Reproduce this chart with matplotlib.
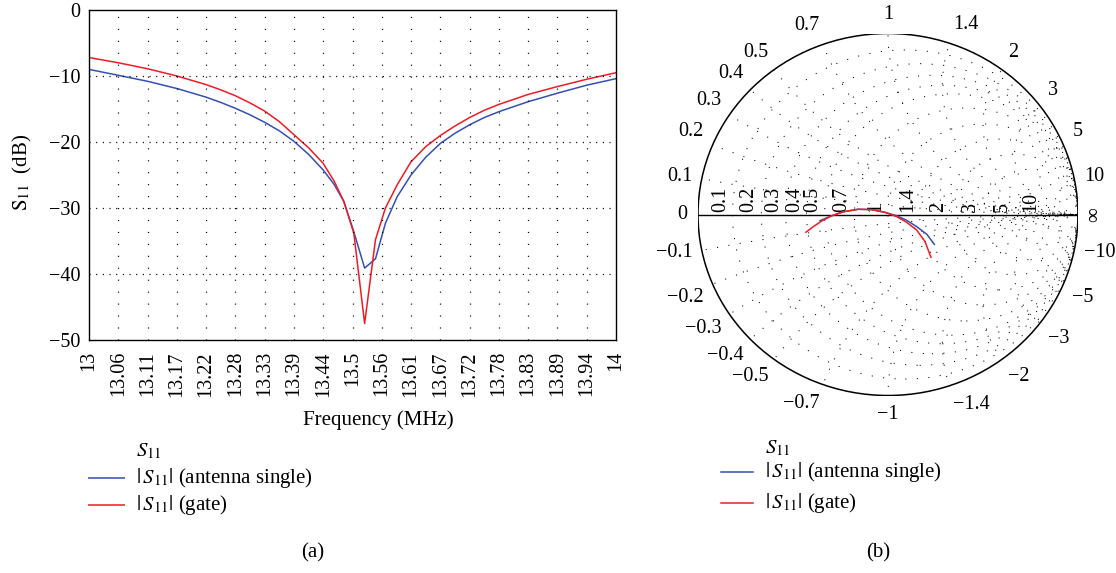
import numpy as np
import matplotlib
matplotlib.use("Agg")
import matplotlib.pyplot as plt
from matplotlib.lines import Line2D
from matplotlib.patches import Circle

plt.rcParams['font.family'] = ['Liberation Serif', 'DejaVu Serif']
plt.rcParams['mathtext.fontset'] = 'stix'
plt.rcParams['lines.scale_dashes'] = False

# --- data ---
# (a) |S11| in dB versus frequency
freq_mhz = [13.0, 13.056, 13.111, 13.167, 13.222, 13.25, 13.278, 13.306, 13.333, 13.361,
            13.389, 13.417, 13.444, 13.465, 13.4835, 13.5025, 13.523, 13.5436, 13.5625,
            13.5847, 13.611, 13.639, 13.667, 13.694, 13.722, 13.75, 13.778, 13.833,
            13.889, 13.944, 14.0]
s11_single = [-9.0, -9.9, -10.8, -11.9, -13.2, -14.0, -14.9, -15.9, -17.0, -18.3,
              -19.9, -21.9, -24.2, -26.4, -29.0, -33.6, -39.1, -37.7, -32.3,
              -28.3, -25.0, -22.3, -20.2, -18.7, -17.4, -16.3, -15.4, -13.9,
              -12.6, -11.4, -10.4]
s11_gate = [-7.2, -8.0, -8.9, -10.0, -11.3, -12.1, -13.0, -14.1, -15.3, -16.9,
            -18.9, -20.9, -23.2, -25.9, -29.0, -33.8, -47.5, -34.8, -30.0,
            -26.5, -23.0, -20.7, -19.0, -17.6, -16.3, -15.2, -14.3, -12.8,
            -11.6, -10.5, -9.5]
freq_ticklabels = ['13', '13.06', '13.11', '13.17', '13.22', '13.28', '13.33', '13.39',
                   '13.44', '13.5', '13.56', '13.61', '13.67', '13.72', '13.78', '13.83',
                   '13.89', '13.94', '14']
db_ticks = [0, -10, -20, -30, -40, -50]

# (b) reflection coefficient on the Smith chart (real, imag)
gam_single_re = [-0.358, -0.296, -0.235, -0.156, -0.086, -0.016, 0.046, 0.098, 0.151, 0.204, 0.244]
gam_single_im = [-0.034, -0.007, 0.015, 0.029, 0.027, 0.012, -0.007, -0.032, -0.067, -0.109, -0.165]
gam_gate_re = [-0.432, -0.393, -0.349, -0.296, -0.235, -0.156, -0.086, -0.016, 0.046, 0.098, 0.151, 0.195, 0.226]
gam_gate_im = [-0.098, -0.067, -0.036, -0.007, 0.015, 0.029, 0.027, 0.012, -0.012, -0.043, -0.086, -0.150, -0.236]
smith_values = [0.1, 0.2, 0.3, 0.4, 0.5, 0.7, 1, 1.4, 2, 3, 5, 10]

labels = [r'$|\,S_{11}|$ (antenna single)', r'$|\,S_{11}|$ (gate)']
c_blue = '#3550b4'
c_red = '#ee1c25'

W, H = 1116, 573
def fx(px):
    return px / W
def fy(py):
    return 1 - py / H

fig = plt.figure(figsize=(W / 100, H / 100), dpi=100)

# ---------------- (a) ----------------
ax1 = fig.add_axes([fx(89), fy(340), (616 - 89) / W, (340 - 10) / H])
ax1.plot(freq_mhz, s11_single, color=c_blue, lw=1.1)
ax1.plot(freq_mhz, s11_gate, color=c_red, lw=1.1)
ax1.set_xlim(13, 14)
ax1.set_ylim(-50, 0)
xt = np.linspace(13, 14, len(freq_ticklabels))
ax1.set_xticks(xt)
ax1.set_xticklabels(freq_ticklabels, rotation=90, fontsize=14.5)
ax1.set_yticks(db_ticks)
ax1.tick_params(axis='y', labelsize=14.5, length=0, pad=6)
ax1.tick_params(axis='x', length=0, pad=8)
for v in xt[1:-1]:
    ax1.axvline(v, color='k', lw=0.9, ls=(0, (0.8, 7.8)))
for v in db_ticks[1:-1]:
    ax1.axhline(v, color='k', lw=0.9, ls=(0, (0.8, 4.0)))
for s in ax1.spines.values():
    s.set_linewidth(1.0)
fig.text(fx(22), fy(172), r'$\mathrm{S}_{11}$  (dB)', rotation=90, ha='center', va='center', fontsize=15)
fig.text(fx(378), fy(420), 'Frequency (MHz)', ha='center', va='center', fontsize=15)

# legend (a)
fig.text(fx(136), fy(451), r'$S_{11}$', ha='left', va='center', fontsize=15)
for yy, col, lab in zip([478, 505], [c_blue, c_red], labels):
    fig.add_artist(Line2D([fx(89), fx(124)], [fy(yy), fy(yy)], color=col, lw=1.4, alpha=0.8))
    fig.text(fx(136), fy(yy), lab, ha='left', va='center', fontsize=15)
fig.text(fx(313), fy(553), '(a)', ha='center', va='center', fontsize=15)

# ---------------- (b) Smith chart ----------------
cx, cy, rx, ry = 888, 214.5, 190, 181
ax2 = fig.add_axes([fx(cx - rx), fy(cy + ry), 2 * rx / W, 2 * ry / H])
ax2.set_xlim(-1, 1)
ax2.set_ylim(-1, 1)
ax2.axis('off')

outer = Circle((0, 0), 1, fill=False, color='k', lw=1.1, zorder=3)
ax2.add_patch(outer)
grid_ls = (0, (0.8, 7.5))
for r in smith_values:
    c = Circle((r / (1 + r), 0), 1 / (1 + r), fill=False, color='k', lw=0.7, ls=grid_ls)
    ax2.add_patch(c)
    c.set_clip_path(outer)
for x in smith_values:
    for sgn in (1, -1):
        c = Circle((1, sgn / x), 1 / x, fill=False, color='k', lw=0.7, ls=grid_ls)
        ax2.add_patch(c)
        c.set_clip_path(outer)
ax2.plot([-1, 1], [0, 0], color='k', lw=1.0, zorder=3)

ax2.plot(gam_single_re, gam_single_im, color=c_blue, lw=1.1, zorder=4)
ax2.plot(gam_gate_re, gam_gate_im, color=c_red, lw=1.1, zorder=5)

def fmt(v):
    s = ('%g' % abs(v))
    return ('\u2212' + s) if v < 0 else s

# labels along the real axis
for r in smith_values:
    g = (r - 1) / (r + 1)
    ax2.annotate(fmt(r), (g, 0), xytext=(-2, 2), textcoords='offset points',
                 rotation=90, ha='right', va='bottom', fontsize=14.5)

# reactance labels around the rim
for x in smith_values:
    for sgn in (1, -1):
        g = (1j * sgn * x - 1) / (1j * sgn * x + 1)
        ca, sa = g.real, g.imag
        ha = 'center' if abs(ca) < 0.25 else ('left' if ca > 0 else 'right')
        va = 'center' if abs(sa) < 0.25 else ('bottom' if sa > 0 else 'top')
        ax2.annotate(fmt(sgn * x), (ca, sa), xytext=(7 * ca, 7 * sa), textcoords='offset points',
                     ha=ha, va=va, fontsize=14.5, annotation_clip=False)
ax2.annotate('0', (-1, 0), xytext=(-8, 0), textcoords='offset points',
             ha='right', va='center', fontsize=14.5, annotation_clip=False)
ax2.annotate('\u221e', (1, 0), xytext=(5, 0), textcoords='offset points', rotation=90,
             ha='left', va='center', fontsize=15, annotation_clip=False)

# legend (b)
fig.text(fx(765), fy(448), r'$S_{11}$', ha='left', va='center', fontsize=15)
for yy, col, lab in zip([472, 503], [c_blue, c_red], labels):
    fig.add_artist(Line2D([fx(721), fx(753)], [fy(yy), fy(yy)], color=col, lw=1.1))
    fig.text(fx(765), fy(yy), lab, ha='left', va='center', fontsize=15)
fig.text(fx(878), fy(553), '(b)', ha='center', va='center', fontsize=15)

fig.savefig('out.png', dpi=100)
